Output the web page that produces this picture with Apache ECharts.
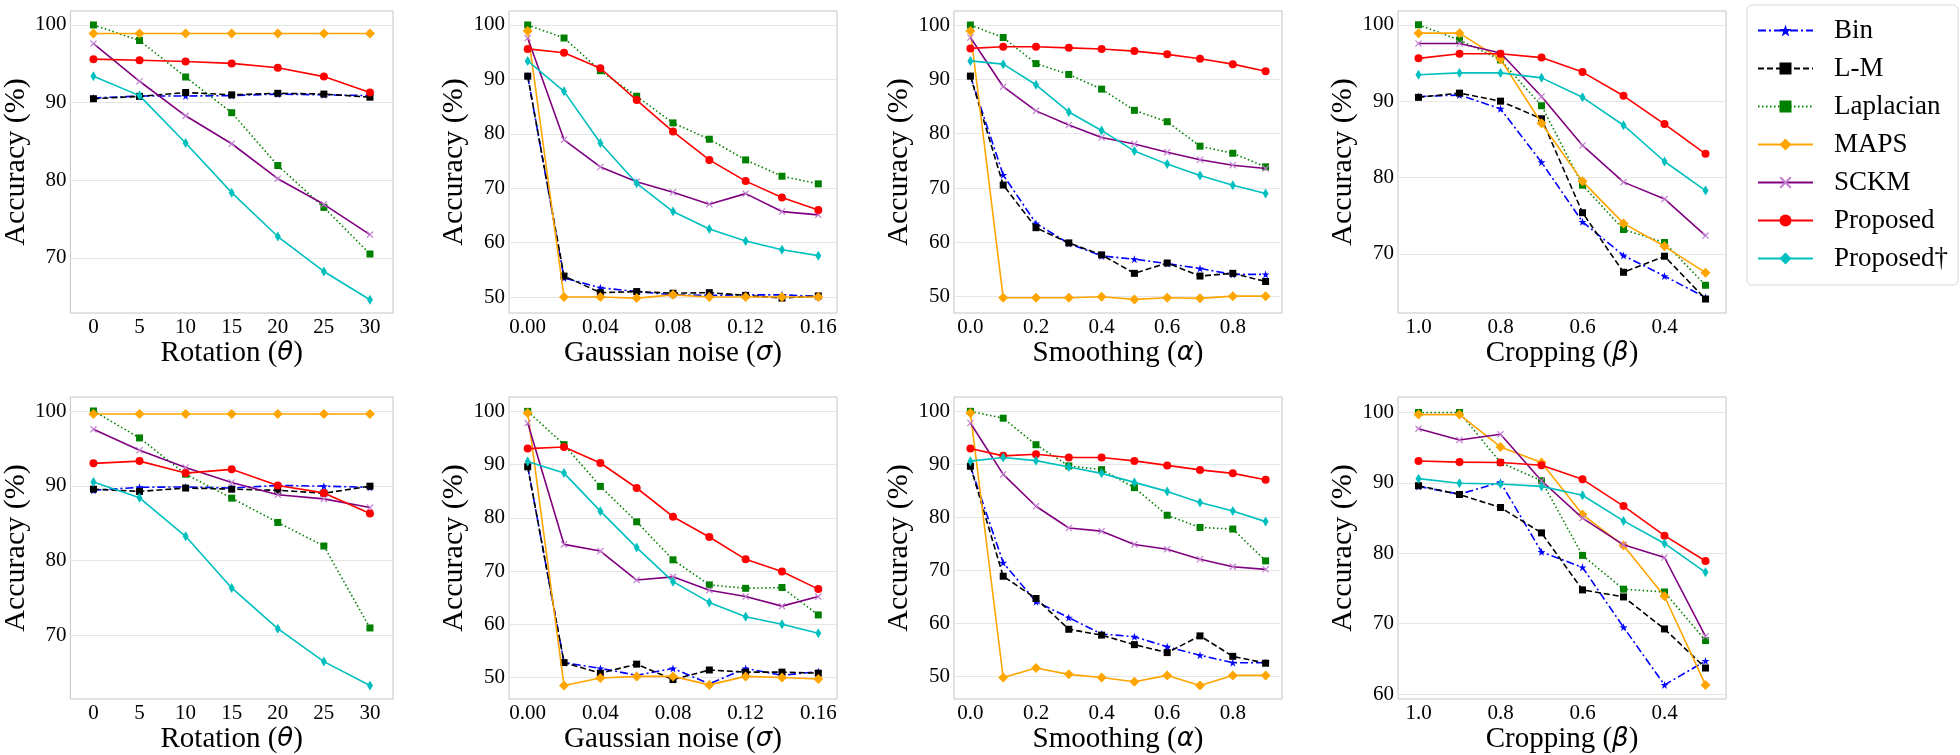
<!DOCTYPE html>
<html>
<head>
<meta charset="utf-8">
<title>Accuracy</title>
<script src="https://cdn.jsdelivr.net/npm/echarts@6/dist/echarts.min.js"></script>
<style>
  html, body { margin: 0; padding: 0; background: #fff; }
  #main { width: 1960px; height: 755px; }
</style>
</head>
<body>
<div id="main"></div>
<script type="text/javascript">
// series order used by every panel below
var methods = ['Bin', 'L-M', 'Laplacian', 'MAPS', 'SCKM', 'Proposed', 'Proposed†'];

var rotationX = [0, 5, 10, 15, 20, 25, 30];
var noiseX = [0, 0.02, 0.04, 0.06, 0.08, 0.10, 0.12, 0.14, 0.16];
var smoothX = [0, 0.1, 0.2, 0.3, 0.4, 0.5, 0.6, 0.7, 0.8, 0.9];
var cropX = [1.0, 0.9, 0.8, 0.7, 0.6, 0.5, 0.4, 0.3];

var rotationTicks = [0, 5, 10, 15, 20, 25, 30];
var noiseTicks = [0, 0.04, 0.08, 0.12, 0.16];
var smoothTicks = [0, 0.2, 0.4, 0.6, 0.8];
var cropTicks = [1.0, 0.8, 0.6, 0.4];
var accTicks70 = [70, 80, 90, 100];
var accTicks60 = [60, 70, 80, 90, 100];
var accTicks50 = [50, 60, 70, 80, 90, 100];

// top row
var rotationTop = [
  [90.6, 90.85, 90.85, 90.9, 91.1, 91.0, 90.9],
  [90.5, 90.8, 91.3, 91.0, 91.2, 91.1, 90.7],
  [100, 98.0, 93.3, 88.7, 81.9, 76.5, 70.5],
  [98.9, 98.9, 98.9, 98.9, 98.9, 98.9, 98.9],
  [97.6, 92.75, 88.3, 84.7, 80.2, 76.9, 73.0],
  [95.6, 95.45, 95.3, 95.05, 94.5, 93.35, 91.3],
  [93.4, 90.9, 84.8, 78.4, 72.75, 68.25, 64.6]
];
var noiseTop = [
  [90.6, 53.5, 51.7, 51.0, 50.4, 50.3, 50.4, 50.4, 50.1],
  [90.6, 53.85, 50.8, 51.0, 50.7, 50.8, 50.3, 49.8, 50.2],
  [100, 97.6, 91.6, 86.9, 82.0, 79.0, 75.2, 72.2, 70.8],
  [98.9, 50.0, 50.0, 49.8, 50.4, 50.0, 50.0, 50.0, 50.0],
  [97.6, 78.9, 73.9, 71.2, 69.25, 67.05, 69.0, 65.7, 65.1],
  [95.6, 94.9, 92.05, 86.2, 80.4, 75.2, 71.3, 68.3, 66.0],
  [93.4, 87.8, 78.3, 70.9, 65.7, 62.5, 60.3, 58.7, 57.6]
];
var smoothTop = [
  [90.6, 72.4, 63.5, 59.8, 57.5, 56.9, 56.1, 55.2, 54.1, 54.1],
  [90.6, 70.55, 62.7, 59.9, 57.7, 54.3, 56.2, 53.8, 54.3, 52.8],
  [100, 97.7, 92.9, 90.9, 88.2, 84.3, 82.2, 77.7, 76.4, 73.9],
  [98.9, 49.8, 49.8, 49.8, 50.0, 49.5, 49.8, 49.7, 50.1, 50.1],
  [97.7, 88.65, 84.2, 81.6, 79.3, 78.1, 76.6, 75.2, 74.2, 73.6],
  [95.7, 96.0, 96.0, 95.8, 95.6, 95.2, 94.6, 93.8, 92.8, 91.5],
  [93.4, 92.8, 89.0, 84.0, 80.6, 76.8, 74.4, 72.3, 70.5, 69.0]
];
var cropTop = [
  [90.6, 90.8, 89.0, 82.0, 74.2, 69.8, 67.1, 64.3],
  [90.5, 91.05, 90.0, 87.7, 75.4, 67.6, 69.7, 64.1],
  [100, 98.0, 95.4, 89.4, 79.0, 73.2, 71.5, 65.9],
  [98.9, 98.9, 95.5, 87.1, 79.5, 74.0, 71.0, 67.55],
  [97.55, 97.55, 96.3, 90.6, 84.2, 79.4, 77.2, 72.4],
  [95.6, 96.2, 96.2, 95.7, 93.8, 90.7, 87.0, 83.1],
  [93.45, 93.7, 93.7, 93.05, 90.5, 86.85, 82.1, 78.3]
];

// bottom row
var rotationBottom = [
  [89.4, 89.8, 89.85, 89.7, 90.05, 89.95, 89.8],
  [89.55, 89.25, 89.7, 89.55, 89.4, 89.0, 89.95],
  [100, 96.4, 91.55, 88.35, 85.1, 81.95, 71.0],
  [99.6, 99.6, 99.6, 99.6, 99.6, 99.6, 99.6],
  [97.55, 94.75, 92.45, 90.45, 88.8, 88.25, 87.1],
  [93.0, 93.3, 91.7, 92.2, 90.05, 89.05, 86.3],
  [90.5, 88.4, 83.25, 76.35, 70.9, 66.5, 63.3]
];
var noiseBottom = [
  [89.6, 52.8, 51.7, 50.4, 51.7, 48.8, 51.7, 50.4, 51.1],
  [89.6, 52.8, 50.8, 52.5, 49.6, 51.4, 51.0, 51.0, 50.8],
  [100, 93.75, 85.9, 79.25, 72.1, 67.4, 66.75, 66.9, 61.75],
  [99.7, 48.5, 49.9, 50.2, 50.2, 48.6, 50.2, 50.0, 49.7],
  [97.8, 75.0, 73.75, 68.3, 68.9, 66.4, 65.2, 63.4, 65.2],
  [93.0, 93.3, 90.3, 85.6, 80.2, 76.4, 72.2, 69.9, 66.6],
  [90.6, 88.4, 81.25, 74.4, 68.0, 64.1, 61.4, 60.0, 58.3]
];
var smoothBottom = [
  [89.65, 71.45, 64.1, 61.1, 58.0, 57.5, 55.6, 54.0, 52.6, 52.6],
  [89.65, 68.9, 64.7, 58.9, 57.8, 56.0, 54.5, 57.65, 53.8, 52.5],
  [100, 98.7, 93.7, 89.7, 89.0, 85.6, 80.4, 78.1, 77.8, 71.8],
  [99.7, 49.8, 51.6, 50.4, 49.8, 49.0, 50.2, 48.3, 50.2, 50.2],
  [97.8, 88.1, 82.1, 78.0, 77.4, 74.9, 74.0, 72.1, 70.7, 70.2],
  [93.0, 91.6, 91.9, 91.3, 91.3, 90.65, 89.8, 88.95, 88.3, 87.1],
  [90.6, 91.3, 90.7, 89.5, 88.3, 86.6, 84.9, 82.8, 81.2, 79.2]
];
var cropBottom = [
  [89.5, 88.4, 90.1, 80.2, 78.0, 69.5, 61.3, 64.7],
  [89.6, 88.35, 86.5, 82.9, 74.8, 73.8, 69.25, 63.7],
  [100, 100, 92.9, 90.3, 79.7, 74.9, 74.5, 67.6],
  [99.7, 99.7, 95.1, 92.9, 85.5, 81.1, 73.9, 61.3],
  [97.7, 96.1, 96.9, 90.3, 85.0, 81.2, 79.4, 68.2],
  [93.1, 92.95, 92.9, 92.5, 90.5, 86.7, 82.5, 78.9],
  [90.6, 89.95, 89.85, 89.5, 88.25, 84.6, 81.4, 77.3]
];

var starPath = 'path://M50,0L61.8,35.5L99,35.5L69,57.5L80.5,93L50,71L19.5,93L31,57.5L1,35.5L38.2,35.5Z';
var crossPath = 'path://M0,12L12,0L50,38L88,0L100,12L62,50L100,88L88,100L50,62L12,100L0,88L38,50Z';

var looks = [
  { line: '#0000ff', mark: '#0000ff', type: [8, 3, 2, 3], symbol: starPath, size: 8 },
  { line: '#000000', mark: '#000000', type: [6, 3], symbol: 'rect', size: 7 },
  { line: '#008000', mark: '#008000', type: [1.5, 2.5], symbol: 'rect', size: 7 },
  { line: '#ffa500', mark: '#ffa500', type: 'solid', symbol: 'diamond', size: 10 },
  { line: '#800080', mark: '#c27fd0', type: 'solid', symbol: crossPath, size: 7 },
  { line: '#ff0000', mark: '#ff0000', type: 'solid', symbol: 'circle', size: 8 },
  { line: '#00bfbf', mark: '#00bfbf', type: 'solid', symbol: 'diamond', size: [6, 10] }
];

var serif = 'Liberation Serif';
var colLeft = [65, 509, 954, 1398];
var rowTop = [11, 397];

var panels = [
  { d: rotationTop, x: rotationX, xt: rotationTicks, xr: [-2.5, 32.5], yr: [62.9, 101.8], yt: accTicks70, name: 'Rotation', g: 'θ', dec: 0, col: 0, row: 0 },
  { d: noiseTop, x: noiseX, xt: noiseTicks, xr: [-0.0103, 0.1703], yr: [47.06, 102.57], yt: accTicks50, name: 'Gaussian noise', g: 'σ', dec: 2, col: 1, row: 0 },
  { d: smoothTop, x: smoothX, xt: smoothTicks, xr: [-0.05, 0.95], yr: [47.0, 102.58], yt: accTicks50, name: 'Smoothing', g: 'α', dec: 1, col: 2, row: 0 },
  { d: cropTop, x: cropX, xt: cropTicks, xr: [0.25, 1.05], yr: [62.27, 101.8], yt: accTicks70, name: 'Cropping', g: 'β', dec: 1, col: 3, row: 0, inv: true },
  { d: rotationBottom, x: rotationX, xt: rotationTicks, xr: [-2.5, 32.5], yr: [61.5, 101.87], yt: accTicks70, name: 'Rotation', g: 'θ', dec: 0, col: 0, row: 1 },
  { d: noiseBottom, x: noiseX, xt: noiseTicks, xr: [-0.0103, 0.1703], yr: [45.95, 102.7], yt: accTicks50, name: 'Gaussian noise', g: 'σ', dec: 2, col: 1, row: 1 },
  { d: smoothBottom, x: smoothX, xt: smoothTicks, xr: [-0.05, 0.95], yr: [45.75, 102.7], yt: accTicks50, name: 'Smoothing', g: 'α', dec: 1, col: 2, row: 1 },
  { d: cropBottom, x: cropX, xt: cropTicks, xr: [0.25, 1.05], yr: [59.3, 102.2], yt: accTicks60, name: 'Cropping', g: 'β', dec: 1, col: 3, row: 1, inv: true }
];

var grids = [], xAxes = [], yAxes = [], series = [];

panels.forEach(function (p, i) {
  grids.push({
    left: colLeft[p.col], top: rowTop[p.row], width: 328, height: 302,
    show: true, borderColor: '#c4c4c4', borderWidth: 1, backgroundColor: '#fff'
  });
  xAxes.push({
    type: 'value', gridIndex: i, min: p.xr[0], max: p.xr[1], inverse: !!p.inv,
    axisLine: { show: false },
    axisTick: { show: false, customValues: p.xt },
    splitLine: { show: false },
    axisLabel: {
      customValues: p.xt, margin: 4, color: '#000', fontFamily: serif, fontSize: 21,
      formatter: (function (dec) { return function (v) { return v.toFixed(dec); }; })(p.dec)
    },
    name: p.name + ' ({g|' + p.g + '})',
    nameLocation: 'middle', nameGap: 24,
    nameTextStyle: {
      color: '#000', fontFamily: serif, fontSize: 29,
      rich: { g: { fontFamily: 'DejaVu Sans', fontStyle: 'italic', fontSize: 26, color: '#000' } }
    }
  });
  yAxes.push({
    type: 'value', gridIndex: i, min: p.yr[0], max: p.yr[1],
    axisLine: { show: false },
    axisTick: { show: false, customValues: p.yt },
    splitLine: { show: true, lineStyle: { color: '#e6e6e6', width: 1 } },
    axisLabel: { customValues: p.yt, margin: 4, color: '#000', fontFamily: serif, fontSize: 21 },
    name: 'Accuracy (%)', nameLocation: 'middle', nameRotate: 90, nameGap: 38,
    nameTextStyle: { color: '#000', fontFamily: serif, fontSize: 30 }
  });
  p.d.forEach(function (vals, k) {
    var lk = looks[k];
    series.push({
      name: methods[k], type: 'line', xAxisIndex: i, yAxisIndex: i,
      data: vals.map(function (v, j) { return [p.x[j], v]; }),
      symbol: lk.symbol, symbolSize: lk.size, showSymbol: true,
      lineStyle: { color: lk.line, width: 1.6, type: lk.type },
      itemStyle: { color: lk.mark, borderWidth: 0 },
      emphasis: { disabled: true },
      animation: false, z: 2 + k
    });
  });
});

var myChart = echarts.init(document.getElementById('main'));
myChart.setOption({
  backgroundColor: '#fff',
  animation: false,
  textStyle: { fontFamily: serif },
  legend: {
    data: methods, orient: 'vertical', left: 1747, top: 5,
    itemWidth: 55, itemHeight: 15, itemGap: 11,
    padding: [12, 10, 13, 10],
    borderColor: '#d6d6d6', borderWidth: 1, borderRadius: 5, backgroundColor: '#fff',
    selectedMode: false,
    textStyle: { fontFamily: serif, fontSize: 27, color: '#000', padding: [0, 0, 0, 16] }
  },
  grid: grids,
  xAxis: xAxes,
  yAxis: yAxes,
  series: series
});
</script>
</body>
</html>
